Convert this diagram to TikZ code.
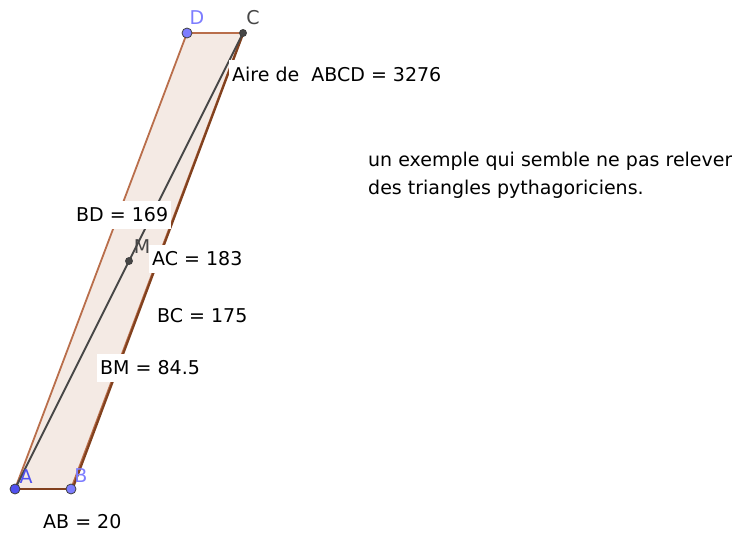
\documentclass[tikz,border=0pt]{standalone}
\usepackage{fontspec}
\setmainfont{DejaVu Sans}
\begin{document}
\begin{tikzpicture}[x=1pt,y=-1pt,
  lbl/.style={font=\fontsize{19}{22}\selectfont, inner sep=2pt, anchor=west},
  wlbl/.style={lbl, fill=white, inner xsep=3pt, inner ysep=7pt},
  pt/.style={circle, inner sep=0pt, minimum size=10pt, draw=black!75, line width=0.8pt},
  ptlbl/.style={font=\fontsize{19}{22}\selectfont, inner sep=0pt}]
\useasboundingbox (0,0) rectangle (732,533);
\definecolor{fillc}{RGB}{244,234,228}
\definecolor{edge}{RGB}{185,110,75}
\definecolor{dedge}{RGB}{130,65,30}
\definecolor{ptblue}{RGB}{80,80,240}
\definecolor{ptlblue}{RGB}{125,125,255}
\definecolor{ptgray}{RGB}{70,70,70}
\coordinate (A) at (15,489);
\coordinate (B) at (71,489);
\coordinate (C) at (243,33);
\coordinate (D) at (187,33);
\coordinate (M) at (129,261);
\fill[fillc] (A) -- (B) -- (C) -- (D) -- cycle;
\draw[edge, line width=1.8pt] (A) -- (B) -- (C) -- (D) -- cycle;
\draw[dedge, line width=2.2pt] (A) -- (B);
\draw[dedge, line width=2.2pt] ([xshift=1.5pt]B) -- ([xshift=1.5pt,yshift=3pt]C);
\draw[ptgray, line width=1.8pt] (A) -- (C);
\node[wlbl] (area) at (229,74) {Aire de\ \ ABCD = 3276};
\node[wlbl] (bd) at (73,215) {BD = 169};
\node[wlbl] (ac) at (149,259) {AC = 183};
\node[lbl] (bc) at (155,316) {BC = 175};
\node[wlbl] (bm) at (97,368) {BM = 84.5};
\node[lbl] (ab) at (41,522) {AB = 20};
\node[lbl, anchor=west, align=left, font=\fontsize{19}{28}\selectfont] (txt) at (366,175) {un exemple qui semble ne pas relever\\des triangles pythagoriciens.};
\node[pt, fill=ptblue] (pA) at (A) {};
\node[pt, fill=ptlblue] (pB) at (B) {};
\node[pt, fill=ptlblue] (pD) at (D) {};
\node[pt, fill=ptgray, minimum size=7pt] (pC) at (C) {};
\node[pt, fill=ptgray, minimum size=7pt] (pM) at (M) {};
\node[ptlbl, text=ptblue] (lA) at (26,477) {A};
\node[ptlbl, text=ptlblue] (lB) at (81,476) {B};
\node[ptlbl, text=ptlblue] (lD) at (197,18) {D};
\node[ptlbl, text=ptgray] (lC) at (253,18) {C};
\node[ptlbl, text=ptgray] (lM) at (142,247) {M};
\end{tikzpicture}
\end{document}
